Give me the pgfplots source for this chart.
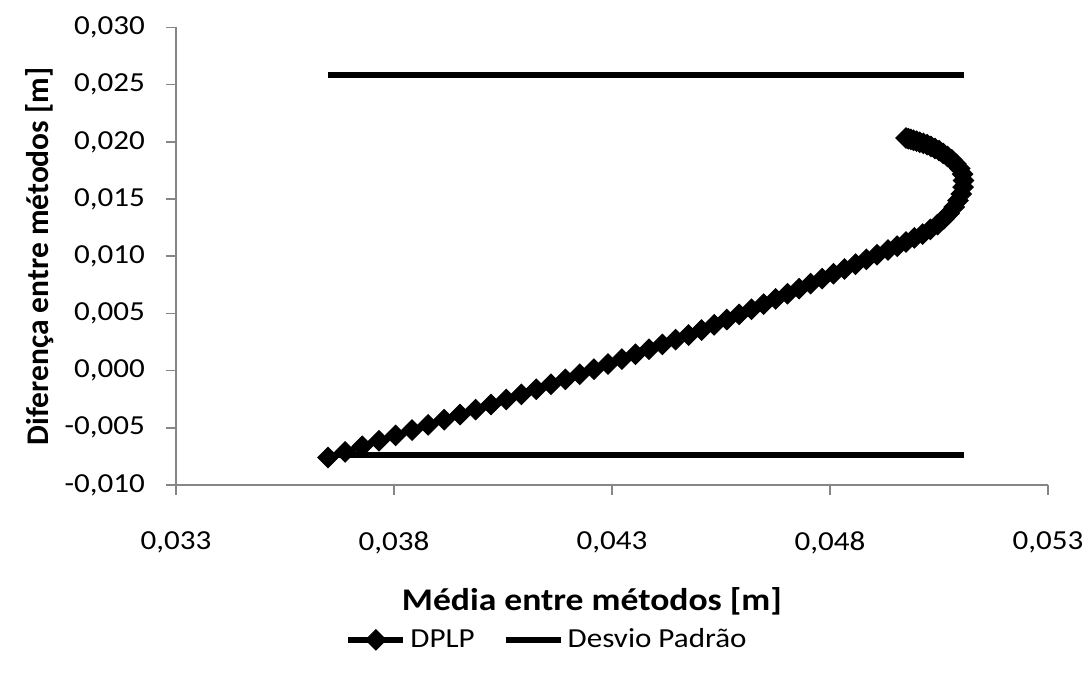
\documentclass[border=0pt]{standalone}
\usepackage{pgfplots}
\pgfplotsset{compat=1.18}
\usepackage{fontspec}
\setmainfont{Carlito}[FakeStretch=1.13]
\newfontfamily\plainfont{Carlito}
\definecolor{axisgray}{RGB}{134,134,134}
\pgfplotsset{
  legmark/.style={legend image code/.code={\draw[##1, mark repeat=2, mark phase=2] plot coordinates {(0pt,0pt) (13.75pt,0pt) (27.5pt,0pt)};}},
  legline/.style={legend image code/.code={\draw[##1] (0pt,0pt) -- (27.5pt,0pt);}},
}
\pgfplotstableread{
x y
0.036486 -0.007596
0.036881 -0.007106
0.037271 -0.006620
0.037656 -0.006140
0.038037 -0.005667
0.038413 -0.005202
0.038784 -0.004744
0.039151 -0.004292
0.039514 -0.003846
0.039872 -0.003405
0.040225 -0.002970
0.040576 -0.002525
0.040920 -0.002076
0.041261 -0.001631
0.041599 -0.001191
0.041931 -0.000758
0.042261 -0.000319
0.042587 0.000129
0.042908 0.000570
0.043225 0.001006
0.043539 0.001438
0.043849 0.001864
0.044156 0.002287
0.044459 0.002703
0.044757 0.003113
0.045053 0.003541
0.045344 0.004004
0.045633 0.004463
0.045917 0.004914
0.046200 0.005363
0.046477 0.005814
0.046752 0.006270
0.047023 0.006720
0.047291 0.007165
0.047557 0.007606
0.047819 0.008039
0.048078 0.008469
0.048333 0.008891
0.048585 0.009310
0.048835 0.009725
0.049080 0.010132
0.049330 0.010546
0.049541 0.010879
0.049741 0.011246
0.049936 0.011604
0.050126 0.011937
0.050300 0.012348
0.050466 0.012767
0.050608 0.013257
0.050734 0.013764
0.050849 0.014297
0.050936 0.014874
0.051011 0.015443
0.051053 0.016046
0.051064 0.016623
0.051041 0.017183
0.050975 0.017672
0.050888 0.018074
0.050794 0.018433
0.050695 0.018730
0.050596 0.018992
0.050502 0.019237
0.050406 0.019421
0.050314 0.019596
0.050227 0.019753
0.050140 0.019867
0.050060 0.019963
0.049986 0.020059
0.049917 0.020138
0.049853 0.020216
0.049796 0.020278
0.049743 0.020339
}\dplp
\begin{document}
\begin{tikzpicture}[x=1pt,y=1pt]
\begin{axis}[
  at={(0,0)}, anchor=south west,
  width=436pt, height=228.75pt, scale only axis,
  xmin=0.033, xmax=0.053, ymin=-0.010, ymax=0.030,
  xtick={0.033,0.038,0.043,0.048,0.053},
  ytick={-0.010,-0.005,0.000,0.005,0.010,0.015,0.020,0.025,0.030},
  scaled ticks=false,
  axis x line*=bottom, axis y line*=left,
  axis line style={draw=axisgray, line width=0.75pt},
  tick style={draw=axisgray, line width=0.75pt},
  major tick length=5pt, tick align=outside,
  /pgf/number format/.cd, fixed, fixed zerofill, precision=3, use comma, assume math mode=true,
  /pgfplots/.cd,
  ticklabel style={font=\fontsize{13.75}{16}\selectfont},
  xticklabel style={yshift=-15pt},
  yticklabel style={xshift=-7pt},
  xlabel={\textbf{Média entre métodos [m]}},
  ylabel={\plainfont\bfseries Diferença entre métodos [m]},
  label style={font=\fontsize{15.75}{18}\selectfont},
  xlabel style={at={(axis description cs:0.477,-0.2536)}, anchor=center},
  ylabel style={at={(axis description cs:-0.156,0.5)}, anchor=center},
  legend style={at={(axis description cs:0.4266,-0.3384)}, anchor=center, draw=none, fill=none,
    font=\fontsize{13.75}{16}\selectfont, legend columns=2,
    /tikz/every even column/.append style={column sep=12pt}},
  legend cell align=left,
  clip=false,
]
\addplot[black, line width=3pt, mark=square*, mark size=3.6pt, mark options={rotate=45, solid, line width=0.5pt}, legmark]
  table[x=x, y=y] {\dplp};
\addlegendentry{DPLP}
\addplot[black, line width=3pt, legline]
  coordinates {(0.036486,0.02589) (0.051064,0.02589)};
\addlegendentry{Desvio Padrão}
\addplot[black, line width=3pt, forget plot]
  coordinates {(0.036486,-0.00738) (0.051064,-0.00738)};
\end{axis}
\pgfresetboundingbox
\path[use as bounding box] (-88,-99) rectangle (456,242.5);
\end{tikzpicture}
\end{document}
